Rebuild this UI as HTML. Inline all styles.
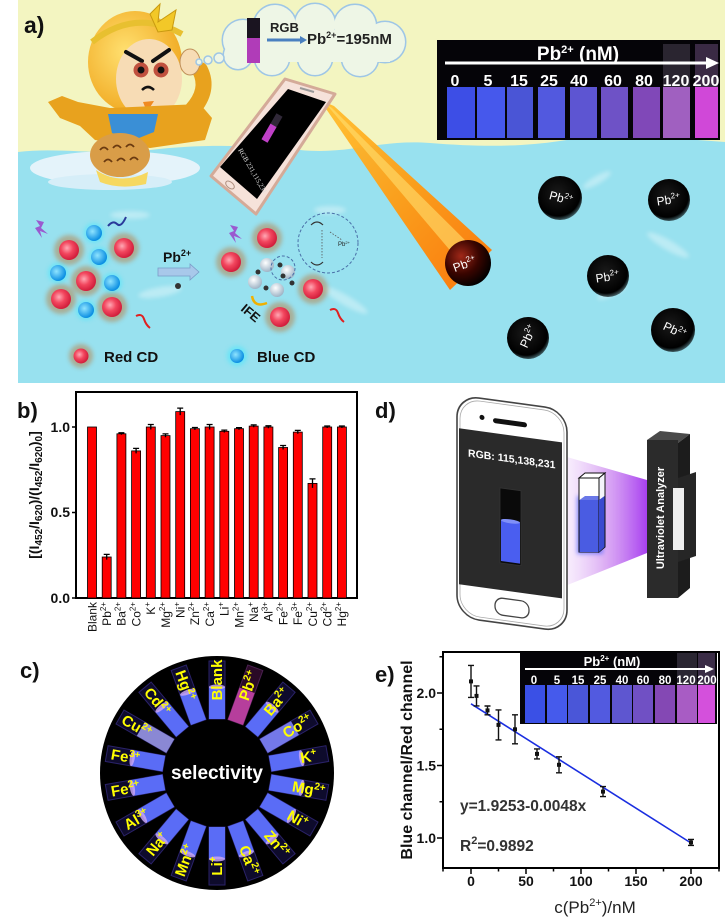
<!DOCTYPE html>
<html><head><meta charset="utf-8">
<style>
html,body{margin:0;padding:0;background:#fff;}
svg{display:block;font-family:"Liberation Sans",Arial,sans-serif;}
</style></head><body>
<svg width="727" height="921" viewBox="0 0 727 921" xmlns="http://www.w3.org/2000/svg">
<defs>
  <filter id="bl2" x="-50%" y="-50%" width="200%" height="200%"><feGaussianBlur stdDeviation="2"/></filter>
  <filter id="bl1" x="-50%" y="-50%" width="200%" height="200%"><feGaussianBlur stdDeviation="1"/></filter>
  <filter id="bl4" x="-50%" y="-50%" width="200%" height="200%"><feGaussianBlur stdDeviation="4"/></filter>
  <radialGradient id="ball" cx="45%" cy="40%" r="60%"><stop offset="0" stop-color="#1a1a1a"/><stop offset=".85" stop-color="#000"/><stop offset="1" stop-color="#000" stop-opacity=".6"/></radialGradient>
  <radialGradient id="ballR" cx="35%" cy="35%" r="70%"><stop offset="0" stop-color="#a02818"/><stop offset=".55" stop-color="#3a0500"/><stop offset="1" stop-color="#000"/></radialGradient>
  <linearGradient id="beam" x1="0" y1="0" x2="1" y2="1"><stop offset="0" stop-color="#ffc030"/><stop offset=".5" stop-color="#ff9a10"/><stop offset="1" stop-color="#ff7000"/></linearGradient>
  <radialGradient id="rc" cx="40%" cy="40%" r="60%"><stop offset="0" stop-color="#ffa8b4"/><stop offset=".5" stop-color="#f2465e"/><stop offset="1" stop-color="#d21e3c"/></radialGradient>
  <radialGradient id="bc" cx="40%" cy="40%" r="60%"><stop offset="0" stop-color="#8fe4ff"/><stop offset="1" stop-color="#0a8ee2"/></radialGradient>
  <radialGradient id="gc" cx="40%" cy="35%" r="65%"><stop offset="0" stop-color="#ffffff"/><stop offset="1" stop-color="#9fb4c6"/></radialGradient>
  <radialGradient id="hair" cx="40%" cy="40%" r="65%"><stop offset="0" stop-color="#ffe070"/><stop offset="1" stop-color="#f0a820"/></radialGradient>
  <linearGradient id="fan" x1="0" y1="0" x2="1" y2="0"><stop offset="0" stop-color="#e8c8f8" stop-opacity=".2"/><stop offset=".5" stop-color="#d090f0" stop-opacity=".7"/><stop offset="1" stop-color="#a840f0"/></linearGradient>
  <g id="tube">
    <rect x="54" y="-8" width="58" height="16" fill="#0e0b2c" stroke="#2a2268" stroke-width="1"/>
    <rect x="54" y="-8" width="32" height="16" fill="#5a6cf6"/>
    <ellipse cx="86" cy="0" rx="2.5" ry="8" fill="#c8a4f4" opacity=".85"/>
  </g>
</defs>

<!-- ================= PANEL A ================= -->
<rect x="18" y="0" width="707" height="383" fill="#f3f5c1"/>
<path d="M18,152 C60,147 100,156 150,150 S250,145 300,150 S380,139 430,143 S520,147 560,141 S660,137 725,142 V383 H18 Z" fill="#98e1ef"/>
<!-- wisps -->
<g fill="#ffffff" opacity=".35" filter="url(#bl2)">
  <ellipse cx="160" cy="292" rx="22" ry="5" transform="rotate(-10 160 292)"/>
  <ellipse cx="345" cy="300" rx="26" ry="5" transform="rotate(30 345 300)"/>
  <ellipse cx="130" cy="215" rx="20" ry="4"/>
  <ellipse cx="330" cy="210" rx="16" ry="4"/>
  <ellipse cx="597" cy="180" rx="16" ry="4" transform="rotate(-30 597 180)"/>
  <ellipse cx="668" cy="245" rx="24" ry="5" transform="rotate(30 668 245)"/>
  <ellipse cx="612" cy="292" rx="16" ry="4" transform="rotate(-25 612 292)"/>
</g>

<text x="24" y="33" font-size="23" font-weight="bold" fill="#111">a)</text>

<!-- ice floe -->
<ellipse cx="115" cy="168" rx="85" ry="17" fill="#e4f3fa"/>
<ellipse cx="110" cy="182" rx="62" ry="8" fill="#d6eef8"/>

<!-- monkey -->
<g>
  <ellipse cx="135" cy="62" rx="47" ry="51" fill="url(#hair)"/>
  <path d="M92,42 Q135,8 182,34" stroke="#e8c030" stroke-width="6" fill="none"/>
  <polygon points="150,14 160,4 158,22 176,10 172,30 158,32" fill="#f2c828" stroke="#c89a10" stroke-width="1"/>
  <ellipse cx="149" cy="79" rx="33" ry="40" fill="#f7dcb5"/>
  <path d="M126,52 L142,61" stroke="#111" stroke-width="4" stroke-linecap="round"/>
  <path d="M153,61 L169,50" stroke="#111" stroke-width="4" stroke-linecap="round"/>
  <circle cx="141" cy="70" r="7.5" fill="#c0503e"/>
  <circle cx="161" cy="70" r="7.5" fill="#c0503e"/>
  <circle cx="141" cy="70" r="3.5" fill="#111"/>
  <circle cx="161" cy="70" r="3.5" fill="#111"/>
  <path d="M142,90 Q148,84 154,90" stroke="#111" stroke-width="2.5" fill="none"/>
  <polygon points="143,102 154,101 147,112" fill="#f08a20"/>
  <!-- body -->
  <path d="M48,102 L62,96 L78,102 L110,108 L200,104 L212,118 L205,140 L150,148 L95,140 L80,126 L60,118 Z" fill="#e8a21e"/>
  <path d="M192,110 Q210,90 200,70" stroke="#e8a21e" stroke-width="16" fill="none" stroke-linecap="round"/>
  <ellipse cx="190" cy="62" rx="10" ry="13" fill="#f7dcb5" stroke="#c0905a" stroke-width="1"/>
  <polygon points="108,114 158,114 154,132 134,140 112,133" fill="#3a8fd6"/>
  <ellipse cx="120" cy="155" rx="30" ry="22" fill="#d99d48"/>
  <g stroke="#6a3a10" stroke-width="1.8" fill="none">
    <path d="M100,150 q4,-5 8,0"/><path d="M113,148 q4,-5 8,0"/><path d="M126,147 q4,-5 8,0"/>
    <path d="M104,162 q4,-5 8,0"/><path d="M117,161 q4,-5 8,0"/><path d="M130,160 q4,-5 8,0"/>
  </g>
  <path d="M96,170 Q120,186 148,172 L146,184 Q120,190 100,182 Z" fill="#f6d860"/>
</g>

<!-- thought cloud -->
<g stroke="#9ec6e6" stroke-width="3" fill="#eef6e6">
  <circle cx="243" cy="40" r="20"/><circle cx="275" cy="26" r="21"/><circle cx="315" cy="24" r="20"/>
  <circle cx="355" cy="26" r="21"/><circle cx="385" cy="42" r="20"/><circle cx="360" cy="58" r="18"/>
  <circle cx="315" cy="58" r="17"/><circle cx="272" cy="58" r="17"/><circle cx="238" cy="55" r="14"/>
</g>
<g fill="#eef6e6">
  <circle cx="243" cy="40" r="20"/><circle cx="275" cy="26" r="21"/><circle cx="315" cy="24" r="20"/>
  <circle cx="355" cy="26" r="21"/><circle cx="385" cy="42" r="20"/><circle cx="360" cy="58" r="18"/>
  <circle cx="315" cy="58" r="17"/><circle cx="272" cy="58" r="17"/><circle cx="238" cy="55" r="14"/>
  <rect x="240" y="30" width="150" height="32"/>
</g>
<g stroke="#9ec6e6" stroke-width="1.5" fill="#eef6e6">
  <circle cx="199" cy="62" r="3"/><circle cx="208" cy="60" r="4"/><circle cx="219" cy="58" r="5"/>
</g>
<rect x="247" y="18" width="13" height="45" fill="#1a1420"/>
<rect x="247" y="38" width="13" height="25" fill="#b03cb8"/>
<text x="270" y="32" font-size="13" font-weight="bold" fill="#222">RGB</text>
<path d="M267,40 H300" stroke="#4a80c0" stroke-width="3"/>
<polygon points="300,36 307,40 300,44" fill="#4a80c0"/>
<text x="307" y="44" font-size="15" font-weight="bold" fill="#222">Pb<tspan font-size="9" dy="-6">2+</tspan><tspan dy="6">=195nM</tspan></text>

<!-- beam -->
<polygon points="320,100 334,106 492,250 450,290" fill="url(#beam)" opacity=".95"/>
<polygon points="326,104 332,108 480,255 465,268" fill="#ffe070" opacity=".6"/>

<!-- phone a -->
<polygon points="285,79 335,94 256,214 211,176" fill="#f6e2da" stroke="#d4aa98" stroke-width="3" stroke-linejoin="round"/>
<polygon points="288,89 326,102 257,199 220,167" fill="#000"/>
<g transform="translate(272,128) rotate(30)">
  <rect x="-3.5" y="-15" width="7" height="30" fill="#302838"/>
  <rect x="-3.5" y="-3" width="7" height="18" fill="#c040c8"/>
</g>
<text transform="translate(238,150) rotate(60)" font-size="7" fill="#ddd" font-family="Liberation Serif,serif">RGB 231,115,231</text>
<ellipse cx="230" cy="185" rx="5" ry="3" fill="none" stroke="#b09080" transform="rotate(40 230 185)"/>
<path d="M300,88 L314,92" stroke="#999" stroke-width="2"/>

<!-- Pb balls -->
<g font-size="12" fill="#fff">
  <circle cx="468" cy="263" r="23" fill="url(#ballR)"/>
  <text transform="translate(466,268) rotate(-20)" text-anchor="middle">Pb<tspan font-size="8" dy="-5">2+</tspan></text>
  <circle cx="560" cy="198" r="22" fill="url(#ball)"/>
  <text transform="translate(560,202) rotate(15)" text-anchor="middle" fill="#fff">Pb<tspan font-size="8" dy="-5">2+</tspan></text>
  <circle cx="669" cy="200" r="21" fill="url(#ball)"/>
  <text transform="translate(669,204) rotate(-8)" text-anchor="middle" fill="#fff">Pb<tspan font-size="8" dy="-5">2+</tspan></text>
  <circle cx="608" cy="276" r="21" fill="url(#ball)"/>
  <text transform="translate(608,281) rotate(-8)" text-anchor="middle" fill="#fff">Pb<tspan font-size="8" dy="-5">2+</tspan></text>
  <circle cx="528" cy="338" r="21" fill="url(#ball)"/>
  <text transform="translate(532,338) rotate(-65)" text-anchor="middle" fill="#fff">Pb<tspan font-size="8" dy="-5">2+</tspan></text>
  <circle cx="673" cy="330" r="22" fill="url(#ball)"/>
  <text transform="translate(673,334) rotate(25)" text-anchor="middle" fill="#fff">Pb<tspan font-size="8" dy="-5">2+</tspan></text>
</g>

<!-- inset a -->
<rect x="437" y="40" width="283" height="100" fill="#050408"/>
<g>
  <rect x="663" y="44" width="27" height="43" fill="#2a2530"/>
  <rect x="695" y="44" width="23" height="43" fill="#3a2a44"/>
  <rect x="447" y="87" width="28" height="51" fill="#3d4ee6"/>
  <rect x="477" y="87" width="28" height="51" fill="#4658ec"/>
  <rect x="507" y="87" width="26" height="51" fill="#4a55d6"/>
  <rect x="538" y="87" width="27" height="51" fill="#5259df"/>
  <rect x="570" y="87" width="27" height="51" fill="#5d55d2"/>
  <rect x="601" y="87" width="27" height="51" fill="#6e52c6"/>
  <rect x="633" y="87" width="27" height="51" fill="#8048b8"/>
  <rect x="663" y="87" width="27" height="51" fill="#a060c0"/>
  <rect x="695" y="87" width="23" height="51" fill="#d048d8"/>
</g>
<text x="578" y="60" font-size="19" font-weight="bold" fill="#fff" text-anchor="middle">Pb<tspan font-size="11" dy="-7">2+</tspan><tspan dy="7"> (nM)</tspan></text>
<path d="M445,63 H708" stroke="#fff" stroke-width="3"/>
<polygon points="706,57 719,63 706,69" fill="#fff"/>
<g font-size="16" font-weight="bold" fill="#fff" text-anchor="middle">
  <text x="455" y="86">0</text><text x="488" y="86">5</text><text x="519" y="86">15</text>
  <text x="549" y="86">25</text><text x="579" y="86">40</text><text x="613" y="86">60</text>
  <text x="644" y="86">80</text><text x="676" y="86">120</text><text x="706" y="86">200</text>
</g>

<!-- CDs -->
<g>
  <g fill="#b48c5c" opacity=".6" filter="url(#bl2)">
    <circle cx="69" cy="250" r="15"/><circle cx="124" cy="248" r="15"/><circle cx="86" cy="281" r="15"/>
    <circle cx="61" cy="299" r="15"/><circle cx="112" cy="307" r="15"/>
    <circle cx="267" cy="238" r="15"/><circle cx="231" cy="262" r="15"/><circle cx="313" cy="289" r="15"/>
    <circle cx="280" cy="317" r="15"/><circle cx="81" cy="356" r="12"/>
  </g>
  <g fill="url(#rc)">
    <circle cx="69" cy="250" r="10"/><circle cx="124" cy="248" r="10"/><circle cx="86" cy="281" r="10"/>
    <circle cx="61" cy="299" r="10"/><circle cx="112" cy="307" r="10"/>
    <circle cx="267" cy="238" r="10"/><circle cx="231" cy="262" r="10"/><circle cx="313" cy="289" r="10"/>
    <circle cx="280" cy="317" r="10"/><circle cx="81" cy="356" r="7.5"/>
  </g>
  <g fill="#40e8ff" opacity=".5" filter="url(#bl2)">
    <circle cx="94" cy="233" r="10"/><circle cx="99" cy="257" r="10"/><circle cx="58" cy="273" r="10"/>
    <circle cx="112" cy="283" r="10"/><circle cx="86" cy="310" r="10"/><circle cx="237" cy="356" r="10"/>
  </g>
  <g fill="url(#bc)">
    <circle cx="94" cy="233" r="8"/><circle cx="99" cy="257" r="8"/><circle cx="58" cy="273" r="8"/>
    <circle cx="112" cy="283" r="8"/><circle cx="86" cy="310" r="8"/><circle cx="237" cy="356" r="7"/>
  </g>
</g>
<polygon points="36,220 44,222 41,228 48,234 40,231 42,238 35,228 40,226" fill="#9a5ad0"/>
<polygon points="230,225 238,227 235,233 242,239 234,236 236,243 229,233 234,231" fill="#9a5ad0"/>
<path d="M108,226 q5,-6 9,-2 t9,-7" stroke="#2a3a9a" stroke-width="2" fill="none"/>
<path d="M136,316 q6,-3 8,3 t6,9" stroke="#e02020" stroke-width="2" fill="none"/>
<path d="M330,310 q6,-3 8,3 t6,9" stroke="#e02020" stroke-width="2" fill="none"/>
<text x="163" y="262" font-size="14" font-weight="bold" fill="#111">Pb<tspan font-size="9" dy="-6">2+</tspan></text>
<polygon points="158,268 190,268 190,264 199,272 190,280 190,276 158,276" fill="#a8c8ea" stroke="#7a9cc8" stroke-width=".8"/>
<circle cx="178" cy="286" r="3" fill="#333"/>
<!-- middle complex -->
<g fill="url(#gc)">
  <circle cx="267" cy="265" r="7"/><circle cx="288" cy="272" r="7"/><circle cx="255" cy="282" r="7"/><circle cx="277" cy="290" r="7"/>
</g>
<g fill="#333">
  <circle cx="258" cy="272" r="2.5"/><circle cx="280" cy="265" r="2.5"/><circle cx="292" cy="283" r="2.5"/>
  <circle cx="266" cy="288" r="2.5"/><circle cx="283" cy="276" r="2.5"/>
</g>
<circle cx="328" cy="243" r="30" fill="none" stroke="#4a70a8" stroke-width="1" stroke-dasharray="3 2"/>
<circle cx="283" cy="268" r="12" fill="none" stroke="#4a70a8" stroke-width="1" stroke-dasharray="3 2"/>
<path d="M311,225 q6,-6 12,0 M311,262 q6,6 12,0" stroke="#333" stroke-width="1.2" fill="none"/>
<path d="M322,230 V258 M330,232 L342,240" stroke="#555" stroke-width=".8" stroke-dasharray="1.5 1.5"/>
<text x="338" y="246" font-size="6" fill="#222">Pb<tspan font-size="4" dy="-2">2+</tspan></text>
<path d="M252,296 Q254,308 267,303" stroke="#f0b000" stroke-width="2.5" fill="none"/>
<text transform="translate(240,310) rotate(40)" font-size="13" font-weight="bold" fill="#111">IFE</text>
<text x="104" y="362" font-size="15" font-weight="bold" fill="#111">Red CD</text>
<text x="257" y="362" font-size="15" font-weight="bold" fill="#111">Blue CD</text>

<!-- ================= PANEL B ================= -->
<text x="17" y="418" font-size="22" font-weight="bold" fill="#111">b)</text>
<rect x="76" y="392" width="281" height="206" fill="#fff" stroke="#000" stroke-width="2"/>
<path d="M72,427 H76 M72,512.5 H76 M72,598 H76" stroke="#000" stroke-width="1.5"/>
<g font-size="14" font-weight="bold" text-anchor="end" fill="#111">
  <text x="70" y="432">1.0</text><text x="70" y="517">0.5</text><text x="70" y="603">0.0</text>
</g>
<text transform="translate(39,495) rotate(-90)" font-size="14" font-weight="bold" text-anchor="middle" fill="#111">[(I<tspan font-size="10" dy="3">452</tspan><tspan dy="-3">/I</tspan><tspan font-size="10" dy="3">620</tspan><tspan dy="-3">)/(I</tspan><tspan font-size="10" dy="3">452</tspan><tspan dy="-3">/I</tspan><tspan font-size="10" dy="3">620</tspan><tspan dy="-3">)</tspan><tspan font-size="10" dy="3">0</tspan><tspan dy="-3">]</tspan></text>
<g fill="#ff0000" stroke="#000" stroke-width=".8">
  <rect x="87.5" y="427" width="9" height="171"/>
  <rect x="102.2" y="557" width="9" height="41"/>
  <rect x="116.9" y="433.8" width="9" height="164.2"/>
  <rect x="131.6" y="450.9" width="9" height="147.1"/>
  <rect x="146.3" y="427" width="9" height="171"/>
  <rect x="161" y="435.6" width="9" height="162.4"/>
  <rect x="175.7" y="411.6" width="9" height="186.4"/>
  <rect x="190.4" y="428.7" width="9" height="169.3"/>
  <rect x="205.1" y="427" width="9" height="171"/>
  <rect x="219.8" y="431.3" width="9" height="166.7"/>
  <rect x="234.5" y="428.7" width="9" height="169.3"/>
  <rect x="249.2" y="426.1" width="9" height="171.9"/>
  <rect x="263.9" y="427" width="9" height="171"/>
  <rect x="278.6" y="447.5" width="9" height="150.5"/>
  <rect x="293.3" y="432.1" width="9" height="165.9"/>
  <rect x="308" y="483.4" width="9" height="114.6"/>
  <rect x="322.7" y="427" width="9" height="171"/>
  <rect x="337.4" y="427" width="9" height="171"/>
</g>
<path stroke="#000" stroke-width="1.3" fill="none" d="
M106.7,554.4V559.6M103.7,554.4H109.7
M121.4,432.8V434.8M118.4,432.8H124.4
M136.1,448.4V453.4M133.1,448.4H139.1
M150.8,424.5V429.5M147.8,424.5H153.8
M165.5,433.9V437.3M162.5,433.9H168.5
M180.2,408.1V415.1M177.2,408.1H183.2
M194.9,427.5V429.9M191.9,427.5H197.9
M209.6,424.5V429.5M206.6,424.5H212.6
M224.3,430.1V432.5M221.3,430.1H227.3
M239,427.7V429.7M236,427.7H242
M253.7,424.9V427.3M250.7,424.9H256.7
M268.4,425.8V428.2M265.4,425.8H271.4
M283.1,445.5V449.5M280.1,445.5H286.1
M297.8,430.4V433.8M294.8,430.4H300.8
M312.5,478.9V487.9M309.5,478.9H315.5
M327.2,426V428M324.2,426H330.2
M341.9,426V428M338.9,426H344.9"/>
<g font-size="12" fill="#111" text-anchor="end">
  <text transform="translate(96.3,602) rotate(-90)">Blank</text>
  <text transform="translate(111,602) rotate(-90)">Pb<tspan font-size="8" dy="-5">2+</tspan></text>
  <text transform="translate(125.7,602) rotate(-90)">Ba<tspan font-size="8" dy="-5">2+</tspan></text>
  <text transform="translate(140.4,602) rotate(-90)">Co<tspan font-size="8" dy="-5">2+</tspan></text>
  <text transform="translate(155.1,602) rotate(-90)">K<tspan font-size="8" dy="-5">+</tspan></text>
  <text transform="translate(169.8,602) rotate(-90)">Mg<tspan font-size="8" dy="-5">2+</tspan></text>
  <text transform="translate(184.5,602) rotate(-90)">Ni<tspan font-size="8" dy="-5">+</tspan></text>
  <text transform="translate(199.2,602) rotate(-90)">Zn<tspan font-size="8" dy="-5">2+</tspan></text>
  <text transform="translate(213.9,602) rotate(-90)">Ca<tspan font-size="8" dy="-5">2+</tspan></text>
  <text transform="translate(228.6,602) rotate(-90)">Li<tspan font-size="8" dy="-5">+</tspan></text>
  <text transform="translate(243.3,602) rotate(-90)">Mn<tspan font-size="8" dy="-5">2+</tspan></text>
  <text transform="translate(258,602) rotate(-90)">Na<tspan font-size="8" dy="-5">+</tspan></text>
  <text transform="translate(272.7,602) rotate(-90)">Al<tspan font-size="8" dy="-5">3+</tspan></text>
  <text transform="translate(287.4,602) rotate(-90)">Fe<tspan font-size="8" dy="-5">2+</tspan></text>
  <text transform="translate(302.1,602) rotate(-90)">Fe<tspan font-size="8" dy="-5">3+</tspan></text>
  <text transform="translate(316.8,602) rotate(-90)">Cu<tspan font-size="8" dy="-5">2+</tspan></text>
  <text transform="translate(331.5,602) rotate(-90)">Cd<tspan font-size="8" dy="-5">2+</tspan></text>
  <text transform="translate(346.2,602) rotate(-90)">Hg<tspan font-size="8" dy="-5">2+</tspan></text>
</g>

<!-- ================= PANEL D ================= -->
<text x="375" y="418" font-size="22" font-weight="bold" fill="#111">d)</text>
<polygon points="560,455 647,480 647,553 560,588" fill="url(#fan)"/>
<g transform="translate(457,395) skewY(7.8)">
  <rect x="0" y="0" width="110" height="222" rx="22" fill="#fff" stroke="#444" stroke-width="1.6"/>
  <rect x="3" y="3" width="104" height="216" rx="20" fill="none" stroke="#aaa" stroke-width=".8"/>
  <rect x="2" y="33" width="103" height="156" fill="#2a2a2a"/>
  <rect x="36" y="18" width="34" height="5" rx="2.5" fill="#111"/>
  <circle cx="25" cy="19" r="2.5" fill="#111"/>
  <rect x="38" y="197" width="34" height="17" rx="8" fill="none" stroke="#444" stroke-width="1.3"/>
  <text x="11" y="60" font-size="10.5" font-weight="bold" fill="#fff">RGB: 115,138,231</text>
  <rect x="43" y="87" width="21" height="75" fill="#0a0a0a" stroke="#333" stroke-width=".8"/>
  <rect x="44" y="119" width="19" height="41" fill="#4a5ef0"/>
  <ellipse cx="53.5" cy="119" rx="9.5" ry="2" fill="#8090f8"/>
</g>
<!-- cuvette -->
<rect x="577" y="496" width="26" height="58" fill="#3a55ff" opacity=".6" filter="url(#bl2)"/>
<polygon points="579,478 585,473 605,473 599,478" fill="#fff" stroke="#111" stroke-width="1"/>
<rect x="579" y="478" width="20" height="74" fill="#fff" stroke="#111" stroke-width="1"/>
<rect x="579.5" y="500" width="19" height="52" fill="#4a5ce2"/>
<polygon points="579.5,500 585,496 604.5,496 598.5,500" fill="#6a78e8"/>
<polygon points="599,478 605,473 605,547 599,552" fill="#f4f4fa" stroke="#111" stroke-width="1"/>
<polygon points="599,500 604.5,496 604.5,547 599,552" fill="#3a4ad0"/>
<!-- analyzer -->
<polygon points="647,440 660,431 690,434 678,443" fill="#4a4a4a"/>
<polygon points="678,443 690,434 690,588 678,598" fill="#1c1c1c"/>
<polygon points="678,478 696,472 696,556 678,562" fill="#262626"/>
<rect x="647" y="440" width="31" height="158" fill="#2b2b2b"/>
<rect x="673" y="488" width="11" height="62" fill="#eeeeee"/>
<text transform="translate(664,518) rotate(-90)" font-size="11" font-weight="bold" fill="#fff" text-anchor="middle">Ultraviolet Analyzer</text>

<!-- ================= PANEL C ================= -->
<text x="20" y="678" font-size="22" font-weight="bold" fill="#111">c)</text>
<circle cx="217" cy="773" r="117" fill="#000"/>
<use href="#tube" transform="translate(217,773) rotate(-90)"/>
<g transform="translate(217,773) rotate(-70)">
  <rect x="54" y="-8" width="58" height="16" fill="#2a0a26" stroke="#4a2050" stroke-width="1"/>
  <rect x="54" y="-8" width="34" height="16" fill="#b63e9c"/>
</g>
<use href="#tube" transform="translate(217,773) rotate(-50)"/>
<g transform="translate(217,773) rotate(-30)">
  <rect x="54" y="-8" width="58" height="16" fill="#0e0b2c" stroke="#2a2268" stroke-width="1"/>
  <rect x="54" y="-8" width="36" height="16" fill="#7478e8"/>
</g>
<use href="#tube" transform="translate(217,773) rotate(-10)"/>
<use href="#tube" transform="translate(217,773) rotate(10)"/>
<use href="#tube" transform="translate(217,773) rotate(30)"/>
<use href="#tube" transform="translate(217,773) rotate(50)"/>
<use href="#tube" transform="translate(217,773) rotate(70)"/>
<use href="#tube" transform="translate(217,773) rotate(90)"/>
<use href="#tube" transform="translate(217,773) rotate(110)"/>
<use href="#tube" transform="translate(217,773) rotate(130)"/>
<use href="#tube" transform="translate(217,773) rotate(150)"/>
<use href="#tube" transform="translate(217,773) rotate(170)"/>
<use href="#tube" transform="translate(217,773) rotate(190)"/>
<g transform="translate(217,773) rotate(210)">
  <rect x="54" y="-8" width="58" height="16" fill="#0e0b2c" stroke="#2a2268" stroke-width="1"/>
  <rect x="54" y="-8" width="34" height="16" fill="#8a88d4"/>
</g>
<use href="#tube" transform="translate(217,773) rotate(230)"/>
<use href="#tube" transform="translate(217,773) rotate(250)"/>
<text x="217" y="779" font-size="19" font-weight="bold" fill="#fff" text-anchor="middle">selectivity</text>
<g font-size="15" font-weight="bold" fill="#ffff00" text-anchor="middle">
  <text transform="translate(217,680) rotate(-90)" dy="5">Blank</text>
  <text transform="translate(248.8,685.6) rotate(-70)" dy="5">Pb<tspan font-size="10" dy="-6">2+</tspan></text>
  <text transform="translate(276.8,701.8) rotate(-50)" dy="5">Ba<tspan font-size="10" dy="-6">2+</tspan></text>
  <text transform="translate(297.5,726.5) rotate(-30)" dy="5">Co<tspan font-size="10" dy="-6">2+</tspan></text>
  <text transform="translate(308.6,756.8) rotate(-10)" dy="5">K<tspan font-size="10" dy="-6">+</tspan></text>
  <text transform="translate(308.6,789.2) rotate(10)" dy="5">Mg<tspan font-size="10" dy="-6">2+</tspan></text>
  <text transform="translate(297.5,819.5) rotate(30)" dy="5">Ni<tspan font-size="10" dy="-6">+</tspan></text>
  <text transform="translate(276.8,844.2) rotate(50)" dy="5">Zn<tspan font-size="10" dy="-6">2+</tspan></text>
  <text transform="translate(248.8,860.4) rotate(70)" dy="5">Ca<tspan font-size="10" dy="-6">2+</tspan></text>
  <text transform="translate(217,866) rotate(-90)" dy="5">Li<tspan font-size="10" dy="-6">+</tspan></text>
  <text transform="translate(185.2,860.4) rotate(-70)" dy="5">Mn<tspan font-size="10" dy="-6">2+</tspan></text>
  <text transform="translate(157.2,844.2) rotate(-50)" dy="5">Na<tspan font-size="10" dy="-6">+</tspan></text>
  <text transform="translate(136.5,819.5) rotate(-30)" dy="5">Al<tspan font-size="10" dy="-6">3+</tspan></text>
  <text transform="translate(125.4,789.2) rotate(-10)" dy="5">Fe<tspan font-size="10" dy="-6">2+</tspan></text>
  <text transform="translate(125.4,756.8) rotate(10)" dy="5">Fe<tspan font-size="10" dy="-6">3+</tspan></text>
  <text transform="translate(136.5,726.5) rotate(30)" dy="5">Cu<tspan font-size="10" dy="-6">2+</tspan></text>
  <text transform="translate(157.2,701.8) rotate(50)" dy="5">Cd<tspan font-size="10" dy="-6">2+</tspan></text>
  <text transform="translate(185.2,685.6) rotate(70)" dy="5">Hg<tspan font-size="10" dy="-6">2+</tspan></text>
</g>

<!-- ================= PANEL E ================= -->
<text x="375" y="682" font-size="22" font-weight="bold" fill="#111">e)</text>
<rect x="443" y="652" width="276" height="216" fill="#fff" stroke="#000" stroke-width="2"/>
<!-- inset e -->
<rect x="520" y="652" width="197" height="72" fill="#050408"/>
<rect x="677" y="653" width="20" height="32" fill="#2a2632"/>
<rect x="698" y="653" width="17" height="32" fill="#3a2c46"/>
<g>
  <rect x="525" y="685" width="20" height="38" fill="#3a50e6"/>
  <rect x="547" y="685" width="20" height="38" fill="#455aec"/>
  <rect x="568" y="685" width="20" height="38" fill="#4a56d8"/>
  <rect x="590" y="685" width="20" height="38" fill="#525ae0"/>
  <rect x="612" y="685" width="20" height="38" fill="#5e56d0"/>
  <rect x="633" y="685" width="20" height="38" fill="#7050c4"/>
  <rect x="655" y="685" width="20" height="38" fill="#8448b4"/>
  <rect x="677" y="685" width="20" height="38" fill="#a85cc4"/>
  <rect x="698" y="685" width="17" height="38" fill="#d450dc"/>
</g>
<text x="612" y="666" font-size="13" font-weight="bold" fill="#fff" text-anchor="middle">Pb<tspan font-size="8" dy="-5">2+</tspan><tspan dy="5"> (nM)</tspan></text>
<path d="M525,669 H706" stroke="#fff" stroke-width="2"/>
<polygon points="705,665 714,669 705,673" fill="#fff"/>
<g font-size="11.5" font-weight="bold" fill="#fff" text-anchor="middle">
  <text x="534" y="684">0</text><text x="557" y="684">5</text><text x="578" y="684">15</text>
  <text x="600" y="684">25</text><text x="622" y="684">40</text><text x="643" y="684">60</text>
  <text x="665" y="684">80</text><text x="686" y="684">120</text><text x="707" y="684">200</text>
</g>
<!-- axes ticks -->
<path stroke="#000" stroke-width="1.5" d="M471,868V874 M526,868V874 M581,868V874 M636,868V874 M691,868V874 M498.5,868V871.5 M553.5,868V871.5 M608.5,868V871.5 M663.5,868V871.5 M443,868V871.5 M719,868V871.5 M437,838H443 M437,765.5H443 M437,693H443 M439.5,801.75H443 M439.5,729.25H443 M439.5,656.75H443"/>
<g font-size="14" font-weight="bold" fill="#111" text-anchor="middle">
  <text x="471" y="886">0</text><text x="526" y="886">50</text><text x="581" y="886">100</text>
  <text x="636" y="886">150</text><text x="691" y="886">200</text>
</g>
<g font-size="14" font-weight="bold" fill="#111" text-anchor="end">
  <text x="436" y="698">2.0</text><text x="436" y="770.5">1.5</text><text x="436" y="843">1.0</text>
</g>
<text transform="translate(412,760) rotate(-90)" font-size="16" font-weight="bold" fill="#111" text-anchor="middle">Blue channel/Red channel</text>
<text x="595" y="913" font-size="17" fill="#222" text-anchor="middle">c(Pb<tspan font-size="11" dy="-7">2+</tspan><tspan dy="7">)/nM</tspan></text>
<!-- fit line -->
<path d="M471,703.8 L691,843" stroke="#1a2ee0" stroke-width="1.6"/>
<!-- error bars -->
<path stroke="#111" stroke-width="1.4" fill="none" d="
M471,665.4V697.4M468,665.4H474M468,697.4H474
M476.5,685.9V705.9M473.5,685.9H479.5M473.5,705.9H479.5
M487.5,706V714.8M484.5,706H490.5M484.5,714.8H490.5
M498.5,709.9V739.9M495.5,709.9H501.5M495.5,739.9H501.5
M515,714.8V743.8M512,714.8H518M512,743.8H518
M537,748.9V758.9M534,748.9H540M534,758.9H540
M559,756.8V772.8M556,756.8H562M556,772.8H562
M603,786.6V796.6M600,786.6H606M600,796.6H606
M691,839.4V845.4M688,839.4H694M688,845.4H694"/>
<g fill="#111">
  <rect x="469" y="679.4" width="4" height="4"/>
  <rect x="474.5" y="693.9" width="4" height="4"/>
  <rect x="485.5" y="708.4" width="4" height="4"/>
  <rect x="496.5" y="722.9" width="4" height="4"/>
  <rect x="513" y="727.3" width="4" height="4"/>
  <rect x="535" y="751.9" width="4" height="4"/>
  <rect x="557" y="762.8" width="4" height="4"/>
  <rect x="601" y="789.6" width="4" height="4"/>
  <rect x="689" y="840.4" width="4" height="4"/>
</g>
<text x="460" y="811" font-size="15.5" font-weight="bold" fill="#333">y=1.9253-0.0048x</text>
<text x="460" y="851" font-size="15.5" font-weight="bold" fill="#333">R<tspan font-size="11" dy="-7">2</tspan><tspan dy="7">=0.9892</tspan></text>
</svg>
</body></html>
